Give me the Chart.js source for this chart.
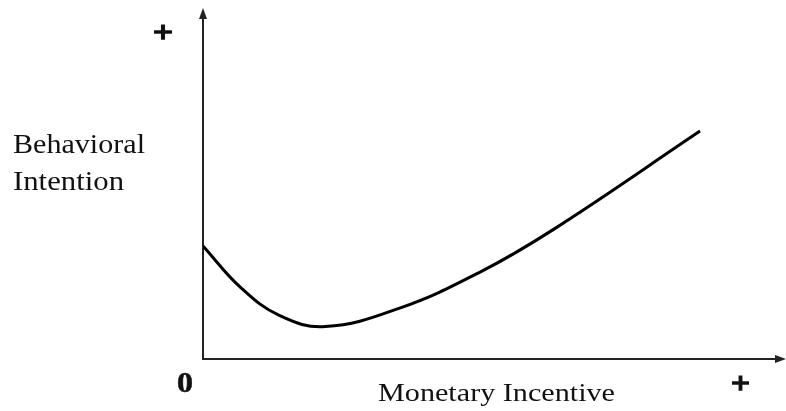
<!DOCTYPE html>
<html>
<head>
<meta charset="utf-8">
<script src="https://cdn.jsdelivr.net/npm/chart.js@4"></script>
<style>
  html, body { margin: 0; padding: 0; background: #fff; }
  #wrap { width: 786px; height: 411px; position: relative; }
</style>
</head>
<body>
<div id="wrap"><canvas id="chart"></canvas></div>
<script>
// Curve (x: incentive 0-100, y: intention 0-100)
const incentive = [0, 6.4, 13.2, 21.0, 33.8, 47.6, 60.1, 85.4];
const intention = [32.4, 20.6, 12.4, 9.3, 14.6, 24.9, 37.0, 65.3];

const yTitle = ["Behavioral", "Intention"];
const xTitle = "Monetary Incentive";
const originLabel = "0";
const plusLabel = "+";

const INK = "#111";
const SERIF = "'Liberation Serif', 'Times New Roman', Times, serif";

// text stretched to a given width (the original looks wide)
function drawText(ctx, text, x, y, font, width, heavy) {
  ctx.save();
  ctx.font = font;
  const w = ctx.measureText(text).width;
  ctx.translate(x, y);
  ctx.scale(width / w, 1);
  ctx.fillText(text, 0, 0);
  if (heavy) {
    ctx.strokeStyle = ctx.fillStyle;
    ctx.lineWidth = heavy;
    ctx.strokeText(text, 0, 0);
  }
  ctx.restore();
}

const axesPlugin = {
  id: "axesPlugin",
  beforeDatasetsDraw(chart) {
    const ctx = chart.ctx;
    const x0 = chart.scales.x.getPixelForValue(0);
    const y0 = chart.scales.y.getPixelForValue(0);
    const top = chart.chartArea.top;
    const right = chart.chartArea.right;

    ctx.save();
    ctx.strokeStyle = "#222";
    ctx.fillStyle = "#222";
    ctx.lineWidth = 2;
    ctx.beginPath();
    ctx.moveTo(x0, top + 4);
    ctx.lineTo(x0, y0);
    ctx.lineTo(right - 4, y0);
    ctx.stroke();

    // arrow heads
    ctx.beginPath();
    ctx.moveTo(x0, top - 2);
    ctx.lineTo(x0 - 4, top + 9);
    ctx.lineTo(x0 + 4, top + 9);
    ctx.closePath();
    ctx.fill();
    ctx.beginPath();
    ctx.moveTo(right + 1, y0);
    ctx.lineTo(right - 10, y0 - 4);
    ctx.lineTo(right - 10, y0 + 4);
    ctx.closePath();
    ctx.fill();
    ctx.restore();
  },
  afterDraw(chart) {
    const ctx = chart.ctx;
    ctx.save();
    ctx.fillStyle = INK;
    ctx.textBaseline = "alphabetic";
    drawText(ctx, yTitle[0], 13, 153, "27px " + SERIF, 132);
    drawText(ctx, yTitle[1], 13, 190, "27px " + SERIF, 111);
    drawText(ctx, xTitle, 378, 401, "25px " + SERIF, 237);
    drawText(ctx, originLabel, 177, 392, "bold 30px " + SERIF, 16, 0.6);
    drawText(ctx, plusLabel, 153, 42, "bold 30px " + SERIF, 20, 1.4);
    drawText(ctx, plusLabel, 731, 393, "bold 30px " + SERIF, 19, 1.4);
    ctx.restore();
  }
};

function makeChart() {
  new Chart(document.getElementById("chart"), {
    type: "scatter",
    data: {
      datasets: [{
        data: incentive.map((x, i) => ({ x: x, y: intention[i] })),
        showLine: true,
        borderColor: "#000",
        borderWidth: 3,
        tension: 0.4,
        pointRadius: 0,
        fill: false
      }]
    },
    options: {
      responsive: true,
      maintainAspectRatio: false,
      animation: false,
      layout: { padding: { left: 203, top: 10, right: 1, bottom: 52 } },
      plugins: { legend: { display: false }, tooltip: { enabled: false } },
      scales: {
        x: { type: "linear", min: 0, max: 100, display: false },
        y: { min: 0, max: 100, display: false }
      }
    },
    plugins: [axesPlugin]
  });
}

Promise.all([
  document.fonts.load("25px 'Liberation Serif'"),
  document.fonts.load("bold 25px 'Liberation Serif'")
]).then(makeChart, makeChart);
</script>
</body>
</html>
